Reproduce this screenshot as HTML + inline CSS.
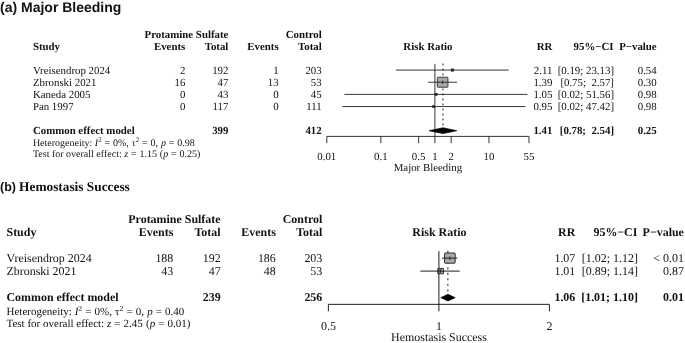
<!DOCTYPE html>
<html><head><meta charset="utf-8"><title>Forest plot</title>
<style>
html,body{margin:0;padding:0;background:#fff;}
svg{display:block;will-change:transform;font-family:"Liberation Serif",serif;fill:#111;}
svg text{white-space:pre;text-rendering:geometricPrecision;}
</style></head><body>
<svg width="685" height="343" viewBox="0 0 685 343">
<text x="0" y="12" font-size="14" font-weight="bold" font-family="Liberation Sans, sans-serif">(a) Major Bleeding</text>
<text x="228.4" y="38" font-size="10.85" text-anchor="end" font-weight="bold">Protamine Sulfate</text>
<text x="321.7" y="38" font-size="10.85" text-anchor="end" font-weight="bold">Control</text>
<text x="32.9" y="50" font-size="10.85" font-weight="bold">Study</text>
<text x="185.3" y="50" font-size="10.85" text-anchor="end" font-weight="bold">Events</text>
<text x="228.4" y="50" font-size="10.85" text-anchor="end" font-weight="bold">Total</text>
<text x="278.7" y="50" font-size="10.85" text-anchor="end" font-weight="bold">Events</text>
<text x="321.7" y="50" font-size="10.85" text-anchor="end" font-weight="bold">Total</text>
<text x="427.9" y="50" font-size="10.85" text-anchor="middle" font-weight="bold">Risk Ratio</text>
<text x="552.4" y="50" font-size="10.85" text-anchor="end" font-weight="bold">RR</text>
<text x="613.5" y="50" font-size="10.85" text-anchor="end" font-weight="bold">95%−CI</text>
<text x="656.7" y="50" font-size="10.85" text-anchor="end" font-weight="bold">P−value</text>
<text x="32.9" y="74" font-size="10.85">Vreisendrop 2024</text>
<text x="185.3" y="74" font-size="10.85" text-anchor="end">2</text>
<text x="228.4" y="74" font-size="10.85" text-anchor="end">192</text>
<text x="278.7" y="74" font-size="10.85" text-anchor="end">1</text>
<text x="321.7" y="74" font-size="10.85" text-anchor="end">203</text>
<text x="552.4" y="74" font-size="10.85" text-anchor="end">2.11</text>
<text x="614.0" y="74" font-size="10.85" text-anchor="end">[0.19; 23.13]</text>
<text x="656.7" y="74" font-size="10.85" text-anchor="end">0.54</text>
<text x="32.9" y="86" font-size="10.85">Zbronski 2021</text>
<text x="185.3" y="86" font-size="10.85" text-anchor="end">16</text>
<text x="228.4" y="86" font-size="10.85" text-anchor="end">47</text>
<text x="278.7" y="86" font-size="10.85" text-anchor="end">13</text>
<text x="321.7" y="86" font-size="10.85" text-anchor="end">53</text>
<text x="552.4" y="86" font-size="10.85" text-anchor="end">1.39</text>
<text x="614.0" y="86" font-size="10.85" text-anchor="end">[0.75;  2.57]</text>
<text x="656.7" y="86" font-size="10.85" text-anchor="end">0.30</text>
<text x="32.9" y="98" font-size="10.85">Kaneda 2005</text>
<text x="185.3" y="98" font-size="10.85" text-anchor="end">0</text>
<text x="228.4" y="98" font-size="10.85" text-anchor="end">43</text>
<text x="278.7" y="98" font-size="10.85" text-anchor="end">0</text>
<text x="321.7" y="98" font-size="10.85" text-anchor="end">45</text>
<text x="552.4" y="98" font-size="10.85" text-anchor="end">1.05</text>
<text x="614.0" y="98" font-size="10.85" text-anchor="end">[0.02; 51.56]</text>
<text x="656.7" y="98" font-size="10.85" text-anchor="end">0.98</text>
<text x="32.9" y="110" font-size="10.85">Pan 1997</text>
<text x="185.3" y="110" font-size="10.85" text-anchor="end">0</text>
<text x="228.4" y="110" font-size="10.85" text-anchor="end">117</text>
<text x="278.7" y="110" font-size="10.85" text-anchor="end">0</text>
<text x="321.7" y="110" font-size="10.85" text-anchor="end">111</text>
<text x="552.4" y="110" font-size="10.85" text-anchor="end">0.95</text>
<text x="614.0" y="110" font-size="10.85" text-anchor="end">[0.02; 47.42]</text>
<text x="656.7" y="110" font-size="10.85" text-anchor="end">0.98</text>
<text x="32.9" y="134" font-size="10.85" font-weight="bold">Common effect model</text>
<text x="228.4" y="134" font-size="10.85" text-anchor="end" font-weight="bold">399</text>
<text x="321.7" y="134" font-size="10.85" text-anchor="end" font-weight="bold">412</text>
<text x="552.4" y="134" font-size="10.85" text-anchor="end" font-weight="bold">1.41</text>
<text x="614.0" y="134" font-size="10.85" text-anchor="end" font-weight="bold">[0.78;  2.54]</text>
<text x="656.7" y="134" font-size="10.85" text-anchor="end" font-weight="bold">0.25</text>
<text x="32.9" y="146" font-size="10.0037">Heterogeneity: <tspan word-spacing="0.35"><tspan font-style="italic">I</tspan><tspan font-size="7.00" dy="-4.00">2</tspan><tspan dy="4.00"> </tspan>= 0%, τ<tspan font-size="7.00" dy="-4.00">2</tspan><tspan dy="4.00"> </tspan>= 0, <tspan font-style="italic">p</tspan> = 0.98</tspan></text>
<text x="32.9" y="157" font-size="10.0037">Test for overall effect: <tspan word-spacing="0.35"><tspan font-style="italic">z</tspan> = 1.15 (<tspan font-style="italic">p</tspan> = 0.25)</tspan></text>
<line x1="442.97" y1="63.55" x2="442.97" y2="127.00" stroke-dasharray="1.8 3.2" stroke="#111" stroke-width="1" fill="none"/>
<rect x="450.93" y="68.57" width="3.0" height="3.0" fill="#2b2b2b"/>
<rect x="437.33" y="77.23" width="10.6" height="10.0" rx="0.5" fill="#a9a9a9" stroke="#2e2e2e" stroke-width="0.9"/>
<rect x="434.65" y="93.00" width="2.8" height="2.8" fill="#2b2b2b"/>
<rect x="432.30" y="105.16" width="2.8" height="2.8" fill="#2b2b2b"/>
<g stroke="#1f1f1f" stroke-width="0.9" fill="none">
<line x1="434.90" y1="63.80" x2="434.90" y2="136.40"/>
<line x1="395.92" y1="70.07" x2="508.63" y2="70.07"/>
<line x1="428.15" y1="82.23" x2="457.06" y2="82.23"/>
<line x1="442.63" y1="80.53" x2="442.63" y2="83.93"/>
<line x1="344.44" y1="94.40" x2="527.45" y2="94.40"/>
<line x1="342.36" y1="106.56" x2="525.49" y2="106.56"/>
<line x1="326.80" y1="136.40" x2="528.97" y2="136.40"/>
<line x1="326.80" y1="136.40" x2="326.80" y2="143.20"/>
<line x1="380.85" y1="136.40" x2="380.85" y2="143.20"/>
<line x1="418.63" y1="136.40" x2="418.63" y2="143.20"/>
<line x1="434.90" y1="136.40" x2="434.90" y2="143.20"/>
<line x1="451.17" y1="136.40" x2="451.17" y2="143.20"/>
<line x1="488.95" y1="136.40" x2="488.95" y2="143.20"/>
<line x1="528.97" y1="136.40" x2="528.97" y2="143.20"/>
</g>
<polygon points="429.07,130.7 442.97,127.79999999999998 456.78,130.7 442.97,133.6" fill="#000" stroke="#000" stroke-width="0.7"/>
<text x="326.80" y="160" font-size="10.85" text-anchor="middle">0.01</text>
<text x="380.85" y="160" font-size="10.85" text-anchor="middle">0.1</text>
<text x="418.63" y="160" font-size="10.85" text-anchor="middle">0.5</text>
<text x="434.90" y="160" font-size="10.85" text-anchor="middle">1</text>
<text x="451.17" y="160" font-size="10.85" text-anchor="middle">2</text>
<text x="488.95" y="160" font-size="10.85" text-anchor="middle">10</text>
<text x="528.97" y="160" font-size="10.85" text-anchor="middle">55</text>
<text x="427.9" y="171" font-size="10.85" text-anchor="middle">Major Bleeding</text>
<text x="0" y="191" font-size="12.5" font-weight="bold" font-family="Liberation Sans, sans-serif">(b)</text>
<text x="19.1" y="191" font-size="13.33" font-weight="bold">Hemostasis Success</text>
<text x="220.6" y="223" font-size="11.95" text-anchor="end" font-weight="bold">Protamine Sulfate</text>
<text x="322.3" y="223" font-size="11.95" text-anchor="end" font-weight="bold">Control</text>
<text x="6.5" y="236" font-size="11.95" font-weight="bold">Study</text>
<text x="173.3" y="236" font-size="11.95" text-anchor="end" font-weight="bold">Events</text>
<text x="220.6" y="236" font-size="11.95" text-anchor="end" font-weight="bold">Total</text>
<text x="275.8" y="236" font-size="11.95" text-anchor="end" font-weight="bold">Events</text>
<text x="322.3" y="236" font-size="11.95" text-anchor="end" font-weight="bold">Total</text>
<text x="439.4" y="236" font-size="11.95" text-anchor="middle" font-weight="bold">Risk Ratio</text>
<text x="575.3" y="236" font-size="11.95" text-anchor="end" font-weight="bold">RR</text>
<text x="637.4" y="236" font-size="11.95" text-anchor="end" font-weight="bold">95%−CI</text>
<text x="683.9" y="236" font-size="11.95" text-anchor="end" font-weight="bold">P−value</text>
<text x="6.5" y="262" font-size="11.95">Vreisendrop 2024</text>
<text x="173.3" y="262" font-size="11.95" text-anchor="end">188</text>
<text x="220.6" y="262" font-size="11.95" text-anchor="end">192</text>
<text x="275.8" y="262" font-size="11.95" text-anchor="end">186</text>
<text x="322.3" y="262" font-size="11.95" text-anchor="end">203</text>
<text x="575.3" y="262" font-size="11.95" text-anchor="end">1.07</text>
<text x="637.9" y="262" font-size="11.95" text-anchor="end">[1.02; 1.12]</text>
<text x="683.9" y="262" font-size="11.95" text-anchor="end">&lt; 0.01</text>
<text x="6.5" y="275" font-size="11.95">Zbronski 2021</text>
<text x="173.3" y="275" font-size="11.95" text-anchor="end">43</text>
<text x="220.6" y="275" font-size="11.95" text-anchor="end">47</text>
<text x="275.8" y="275" font-size="11.95" text-anchor="end">48</text>
<text x="322.3" y="275" font-size="11.95" text-anchor="end">53</text>
<text x="575.3" y="275" font-size="11.95" text-anchor="end">1.01</text>
<text x="637.9" y="275" font-size="11.95" text-anchor="end">[0.89; 1.14]</text>
<text x="683.9" y="275" font-size="11.95" text-anchor="end">0.87</text>
<text x="6.5" y="301" font-size="11.95" font-weight="bold">Common effect model</text>
<text x="220.6" y="301" font-size="11.95" text-anchor="end" font-weight="bold">239</text>
<text x="322.3" y="301" font-size="11.95" text-anchor="end" font-weight="bold">256</text>
<text x="575.3" y="301" font-size="11.95" text-anchor="end" font-weight="bold">1.06</text>
<text x="637.9" y="301" font-size="11.95" text-anchor="end" font-weight="bold">[1.01; 1.10]</text>
<text x="683.9" y="301" font-size="11.95" text-anchor="end" font-weight="bold">0.01</text>
<text x="6.5" y="315" font-size="11.0179">Heterogeneity: <tspan word-spacing="0.35"><tspan font-style="italic">I</tspan><tspan font-size="7.71" dy="-4.41">2</tspan><tspan dy="4.41"> </tspan>= 0%, τ<tspan font-size="7.71" dy="-4.41">2</tspan><tspan dy="4.41"> </tspan>= 0, <tspan font-style="italic">p</tspan> = 0.40</tspan></text>
<text x="6.5" y="327" font-size="11.0179">Test for overall effect: <tspan word-spacing="0.35"><tspan font-style="italic">z</tspan> = 2.45 (<tspan font-style="italic">p</tspan> = 0.01)</tspan></text>
<line x1="447.89" y1="250.85" x2="447.89" y2="294.50" stroke-dasharray="2.0 3.5" stroke="#111" stroke-width="1" fill="none"/>
<rect x="444.57" y="253.00" width="10.6" height="10.2" rx="0.5" fill="#a9a9a9" stroke="#2e2e2e" stroke-width="1.0"/>
<rect x="437.79" y="268.40" width="5.7" height="5.4" rx="0.5" fill="#a9a9a9" stroke="#2e2e2e" stroke-width="1.0"/>
<g stroke="#1f1f1f" stroke-width="1.0" fill="none">
<line x1="438.90" y1="251.10" x2="438.90" y2="304.35"/>
<line x1="442.06" y1="258.10" x2="457.39" y2="258.10"/>
<line x1="449.87" y1="256.40" x2="449.87" y2="259.80"/>
<line x1="420.32" y1="271.10" x2="459.79" y2="271.10"/>
<line x1="440.64" y1="269.40" x2="440.64" y2="272.80"/>
<line x1="328.39" y1="304.35" x2="549.41" y2="304.35"/>
<line x1="328.39" y1="304.35" x2="328.39" y2="311.35"/>
<line x1="438.90" y1="304.35" x2="438.90" y2="311.35"/>
<line x1="549.41" y1="304.35" x2="549.41" y2="311.35"/>
</g>
<polygon points="440.80,297.65 447.95,294.34999999999997 455.20,297.65 447.95,300.95" fill="#000" stroke="#000" stroke-width="0.7"/>
<text x="328.39" y="330" font-size="11.95" text-anchor="middle">0.5</text>
<text x="438.90" y="330" font-size="11.95" text-anchor="middle">1</text>
<text x="549.41" y="330" font-size="11.95" text-anchor="middle">2</text>
<text x="439.0" y="341" font-size="11.95" text-anchor="middle">Hemostasis Success</text>
</svg>
</body></html>
